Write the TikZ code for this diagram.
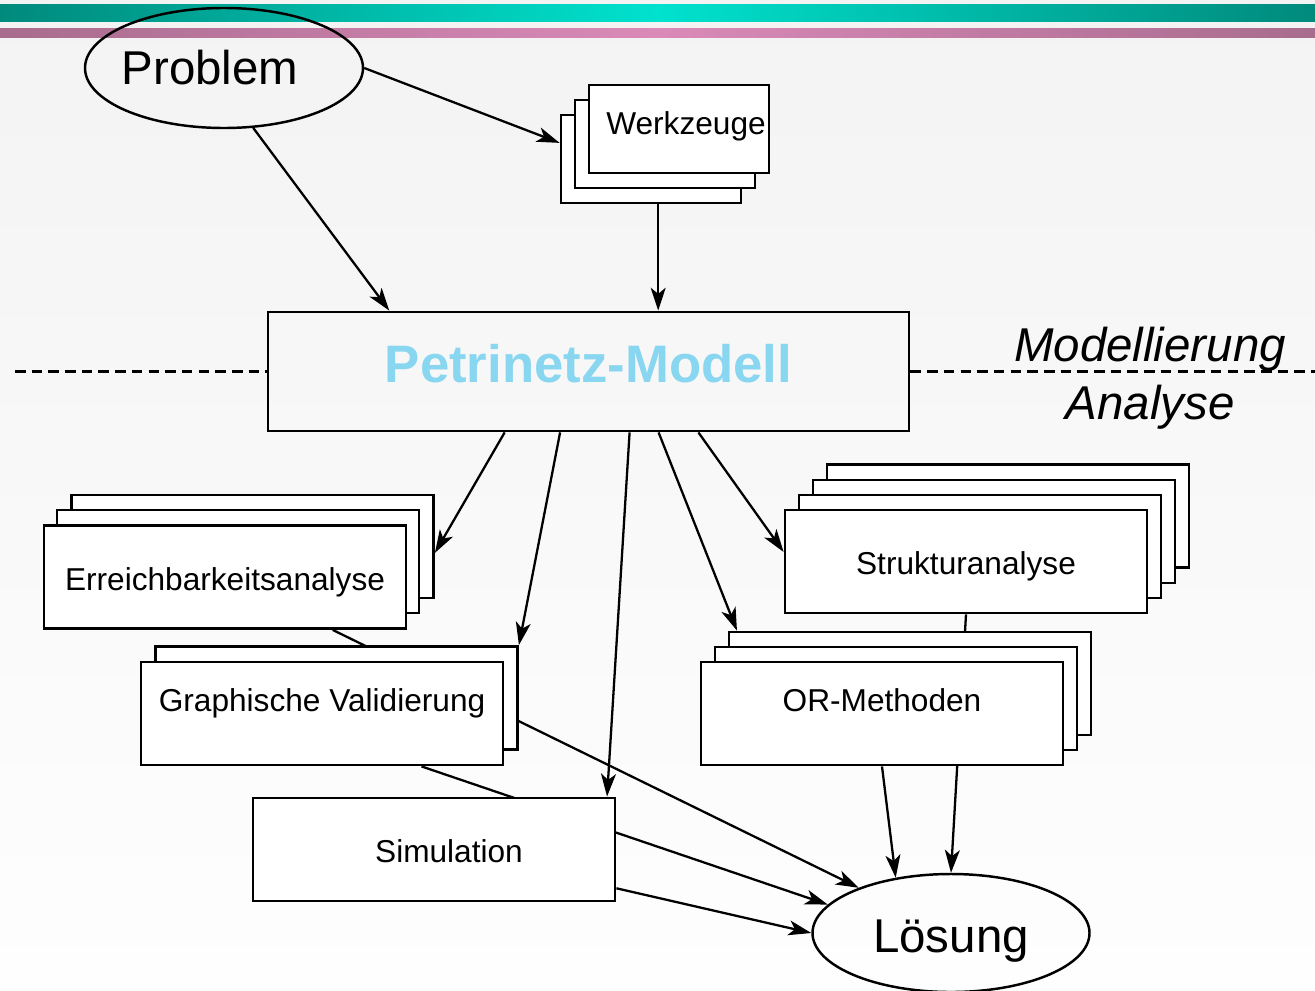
\documentclass[tikz,border=0pt]{standalone}
\usepackage{fontspec}
\setmainfont{Liberation Sans}
\usetikzlibrary{shapes.geometric,arrows.meta}

\definecolor{bgtop}{RGB}{243,243,243}
\definecolor{bgbot}{RGB}{254,254,254}
\definecolor{tealdark}{RGB}{0,138,124}
\definecolor{tealbright}{RGB}{0,226,206}
\definecolor{rosedark}{RGB}{168,108,142}
\definecolor{rosebright}{RGB}{218,138,184}
\definecolor{petriblue}{RGB}{137,214,240}

\pgfdeclarelayer{bg}
\pgfsetlayers{bg,main}

% text sideways, without changing the node width
\newcommand{\verschieb}[2]{\hspace*{#1}#2\hspace*{-#1}}

\begin{document}
\begin{tikzpicture}[
  >={Stealth[length=13pt,width=8.5pt,inset=3.5pt]},
  pfeil/.style={->, line width=1.3pt},
  trenn/.style={line width=1.3pt, dash pattern=on 6pt off 3.5pt},
  rbox/.style={draw, fill=white, line width=1.6pt, inner sep=0pt,
    minimum width=7.24cm, minimum height=2.06cm,
    text height=0.66cm, text depth=0.13cm,
    font=\fontsize{18}{22}\selectfont},
  raised/.style={text depth=0.73cm},
  oval/.style={draw, ellipse, line width=1.4pt, inner sep=0pt,
    font=\fontsize{27}{32}\selectfont},
  layertext/.style={anchor=base, font=\fontsize{27}{32}\selectfont\itshape}
]

\useasboundingbox (0,0) rectangle (26.3,-19.8);

\begin{pgfonlayer}{bg}
\shade[top color=bgtop, bottom color=bgbot] (0,0) rectangle (26.3,-19.8);
\shade[left color=tealdark, right color=tealdark, middle color=tealbright] (0,-0.08) rectangle (26.3,-0.42);
\shade[left color=rosedark, right color=rosedark, middle color=rosebright] (0,-0.56) rectangle (26.3,-0.74);
\end{pgfonlayer}

\node[oval, minimum width=5.56cm, minimum height=2.4cm] (prob) at (4.48,-1.36) {\verschieb{-0.28cm}{Problem}};

\node[rbox, minimum width=3.6cm, minimum height=1.76cm] (werk3) at (13.02,-3.18) {};
\node[rbox, minimum width=3.6cm, minimum height=1.76cm] (werk2) at (13.30,-2.88) {};
\node[rbox, minimum width=3.6cm, minimum height=1.76cm, text depth=0.45cm] (werk) at (13.58,-2.58) {\verschieb{0.14cm}{Werkzeuge}};

\node[draw, line width=1.6pt, minimum width=12.82cm, minimum height=2.38cm,
  text depth=0.32cm, font=\fontsize{30}{36}\selectfont\bfseries, text=petriblue] (petri) at (11.77,-7.43) {Petrinetz-Modell};

\coordinate (ltrand) at (0.30,-7.43);
\coordinate (rtrand) at (26.3,-7.43);

\node[layertext] (modl) at (23.0,-7.22) {Modellierung};
\node[layertext] (anal) at (23.0,-8.38) {Analyse};

\node[rbox] (err3) at (5.05,-10.93) {};
\node[rbox] (err2) at (4.76,-11.23) {};
\node[rbox] (err) at (4.50,-11.54) {Erreichbarkeitsanalyse};

\node[rbox] (gra2) at (6.73,-13.96) {};
\node[rbox, raised] (gra) at (6.44,-14.27) {Graphische Validierung};

\node[rbox] (sim) at (8.68,-16.99) {\verschieb{0.3cm}{Simulation}};

\node[rbox] (str4) at (20.16,-10.32) {};
\node[rbox] (str3) at (19.88,-10.63) {};
\node[rbox] (str2) at (19.60,-10.93) {};
\node[rbox] (str) at (19.32,-11.23) {Strukturanalyse};

\node[rbox] (ormeth3) at (18.20,-13.67) {};
\node[rbox] (ormeth2) at (17.92,-13.97) {};
\node[rbox, raised] (ormeth) at (17.64,-14.27) {OR-Methoden};

\node[oval, minimum width=5.54cm, minimum height=2.36cm, text height=0.97cm] (loes) at (19.02,-18.66) {Lösung};

\begin{pgfonlayer}{bg}
\draw[trenn] (ltrand) -- (petri);
\draw[trenn] (petri) -- (rtrand);

\draw[pfeil] (prob.east) -- (werk3.170);
\draw[pfeil] (prob.-64) -- (petri.163);
\draw[pfeil] (werk3.-81) -- (werk3.-81 |- petri.north);

\draw[pfeil] (petri.-144) -- (err3.-2);
\draw[pfeil] (petri.-115) -- (gra2.north east);
\draw[pfeil] (petri.-56) -- (sim.17);
\draw[pfeil] (petri.-41) -- (ormeth3.163);
\draw[pfeil] (petri.-29) -- (str.177);

\draw[pfeil] (err) -- (loes);
\draw[pfeil] (gra.-28) -- (loes.167);
\draw[pfeil] (sim.-12) -- (loes.west);
\draw[pfeil] (str.south) -- (loes.north);
\draw[pfeil] (ormeth.south) -- (loes.135);
\end{pgfonlayer}

\end{tikzpicture}
\end{document}
